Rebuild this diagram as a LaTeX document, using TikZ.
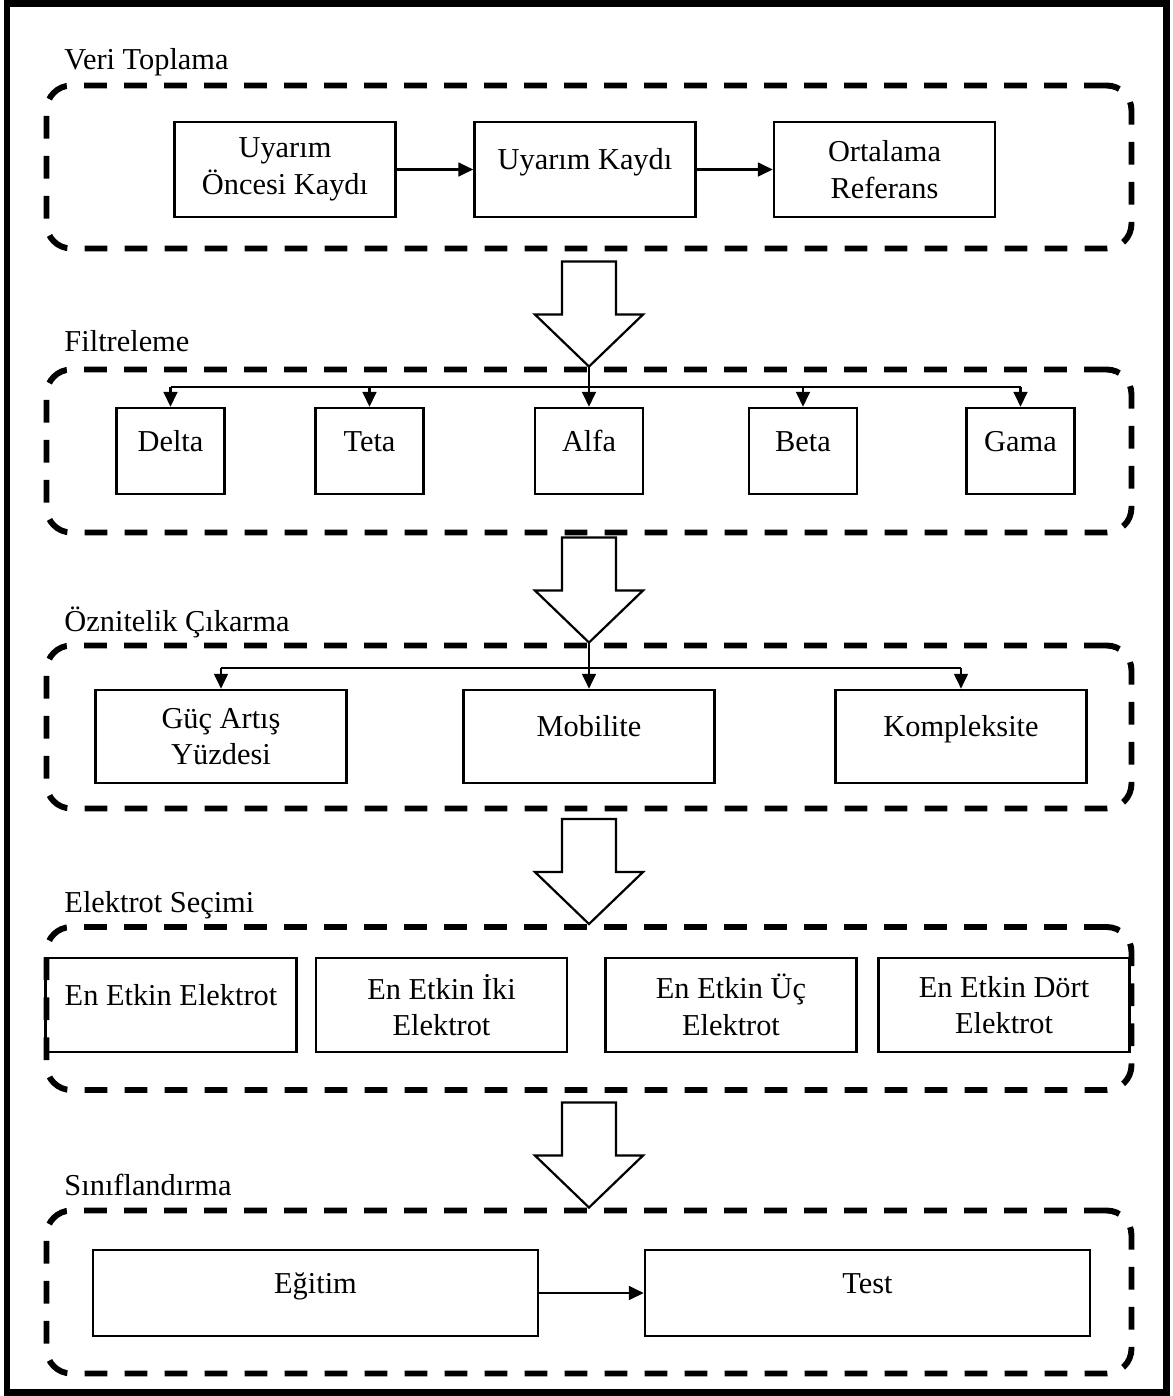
\documentclass[tikz,border=0pt]{standalone}
\usepackage{fontspec}
\setmainfont{Liberation Serif}
\usetikzlibrary{
    arrows.meta,
    positioning
}
\tikzstyle{stageframe} = [
    rectangle,
    rounded corners=10pt,
    draw=black,
    line width=2.4pt,
    dash pattern=on 9.2pt off 7pt,
    minimum width=439.4pt,
    minimum height=66pt,
    inner sep=0pt,
    outer sep=0pt
]
\tikzstyle{stagetitle} = [
    anchor=base west,
    inner sep=0pt,
    font=\fontsize{12.3}{14.8}\selectfont
]
\tikzstyle{block} = [
    rectangle,
    draw=black,
    line width=1pt,
    align=center,
    inner sep=2pt,
    font=\fontsize{12.3}{14.8}\selectfont
]
\tikzstyle{singleblock} = [
    block,
    text height=1.1ex,
    text depth=1.1ex
]
\tikzstyle{arrow} = [
    -{Triangle[length=6pt,width=5.5pt]},
    line width=1pt
]
\tikzstyle{busline} = [
    line width=1pt
]
\tikzstyle{bigarrow} = [
    draw=black,
    fill=white,
    line width=0.9pt,
    line join=miter
]

\begin{document}
\begin{tikzpicture}[x=0.405pt, y=-0.405pt]
    \useasboundingbox (0,0) rectangle (1172,1396);
    % Outer frame
    \draw[line width=2.6pt] (7,3.5) rectangle (1166.5,1392.5);

    % Stage frames
    \node[stageframe] (veri) at (589,167) {};
    \node[stageframe] (filtre) at (589,451) {};
    \node[stageframe] (oznitelik) at (589,727) {};
    \node[stageframe] (elektrot) at (589,1008.5) {};
    \node[stageframe] (sinif) at (589,1292) {};

    % Stage titles
    \node[stagetitle] (veriT) at (64,69) {Veri Toplama};
    \node[stagetitle] (filtreT) at (64,351) {Filtreleme};
    \node[stagetitle] (oznitelikT) at (64,631) {Öznitelik Çıkarma};
    \node[stagetitle] (elektrotT) at (64,912) {Elektrot Seçimi};
    \node[stagetitle] (sinifT) at (64,1195) {Sınıflandırma};

    % Veri Toplama
    \node[block, minimum width=89.5pt, minimum height=38.5pt] (oncesi) at (285,169.5) {Uyarım\\Öncesi Kaydı};
    \node[singleblock, minimum width=89.5pt, minimum height=38.5pt] (kayit) at (585,169.5) {Uyarım Kaydı};
    \node[block, minimum width=89.5pt, minimum height=38.5pt] (ortalama) at (884.5,169.5) {Ortalama\\Referans};

    % Filtreleme
    \node[singleblock, minimum width=43.7pt, minimum height=34.8pt] (delta) at (170.5,451) {Delta};
    \node[singleblock, minimum width=43.7pt, minimum height=34.8pt] (teta) at (369.5,451) {Teta};
    \node[singleblock, minimum width=43.7pt, minimum height=34.8pt] (alfa) at (589,451) {Alfa};
    \node[singleblock, minimum width=43.7pt, minimum height=34.8pt] (beta) at (803,451) {Beta};
    \node[singleblock, minimum width=43.7pt, minimum height=34.8pt] (gama) at (1020.5,451) {Gama};

    % Oznitelik Cikarma
    \node[block, minimum width=101.7pt, minimum height=37.7pt] (guc) at (221,736.5) {Güç Artış\\Yüzdesi};
    \node[singleblock, minimum width=101.7pt, minimum height=37.7pt] (mobilite) at (589,736.5) {Mobilite};
    \node[singleblock, minimum width=101.7pt, minimum height=37.7pt] (kompleksite) at (961,736.5) {Kompleksite};

    % Elektrot Secimi
    \node[singleblock, minimum width=101.7pt, minimum height=38.1pt] (bir) at (171,1005) {En Etkin Elektrot};
    \node[block, minimum width=101.7pt, minimum height=38.1pt] (iki) at (441.5,1005) {En Etkin İki\\Elektrot};
    \node[block, minimum width=101.7pt, minimum height=38.1pt] (uc) at (731,1005) {En Etkin Üç\\Elektrot};
    \node[block, minimum width=101.7pt, minimum height=38.1pt] (dort) at (1004,1005) {En Etkin Dört\\Elektrot};

    % Siniflandirma
    \node[singleblock, minimum width=180.2pt, minimum height=34.8pt] (egitim) at (315.5,1293) {Eğitim};
    \node[singleblock, minimum width=180.2pt, minimum height=34.8pt] (test) at (867.5,1293) {Test};

    % Big arrows between stages
    \path (filtre.north) ++(0,-3) coordinate (filtreTip);
    \path (oznitelik.north) ++(0,-3) coordinate (oznitelikTip);
    \path (elektrot.north) ++(0,-3) coordinate (elektrotTip);
    \path (sinif.north) ++(0,-3) coordinate (sinifTip);
    \draw[bigarrow] (filtreTip) -- ++(-54,-52) -- ++(27,0) -- ++(0,-53) -- ++(54,0) -- ++(0,53) -- ++(27,0) -- cycle;
    \draw[bigarrow] (oznitelikTip) -- ++(-54,-52) -- ++(27,0) -- ++(0,-53) -- ++(54,0) -- ++(0,53) -- ++(27,0) -- cycle;
    \draw[bigarrow] (elektrotTip) -- ++(-54,-52) -- ++(27,0) -- ++(0,-53) -- ++(54,0) -- ++(0,53) -- ++(27,0) -- cycle;
    \draw[bigarrow] (sinifTip) -- ++(-54,-52) -- ++(27,0) -- ++(0,-53) -- ++(54,0) -- ++(0,53) -- ++(27,0) -- cycle;

    % Arrows
    \draw[arrow] (oncesi) -- (kayit);
    \draw[arrow] (kayit) -- (ortalama);

    \coordinate (filtreBus) at (589,387);
    \draw[busline] (delta.north |- filtreBus) -- (gama.north |- filtreBus);
    \draw[arrow] (filtreTip) -- (alfa);
    \draw[arrow] (delta.north |- filtreBus) -- (delta);
    \draw[arrow] (teta.north |- filtreBus) -- (teta);
    \draw[arrow] (beta.north |- filtreBus) -- (beta);
    \draw[arrow] (gama.north |- filtreBus) -- (gama);

    \coordinate (oznitelikBus) at (589,668);
    \draw[busline] (guc.north |- oznitelikBus) -- (kompleksite.north |- oznitelikBus);
    \draw[arrow] (oznitelikTip) -- (mobilite);
    \draw[arrow] (guc.north |- oznitelikBus) -- (guc);
    \draw[arrow] (kompleksite.north |- oznitelikBus) -- (kompleksite);

    \draw[arrow] (egitim) -- (test);
\end{tikzpicture}
\end{document}
